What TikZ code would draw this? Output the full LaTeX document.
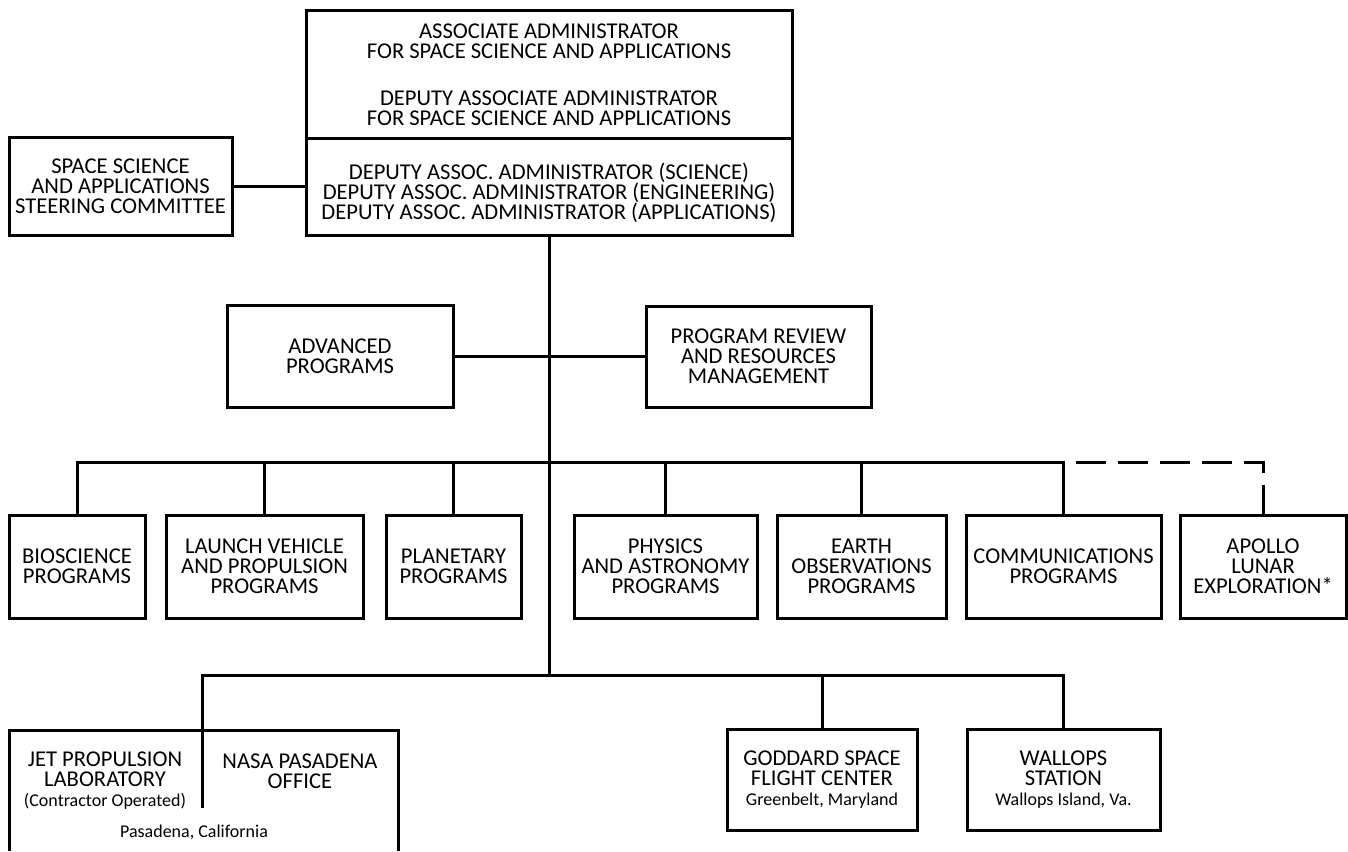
\documentclass[tikz,border=0pt]{standalone}
\usepackage{fontspec}
\setmainfont{Carlito}
\newcommand{\subline}[1]{{\fontsize{9}{10}\selectfont #1}}

\begin{document}
\begin{tikzpicture}[x=0.5pt,y=-0.5pt,
    box/.style={draw, line width=1.5pt, align=center, inner sep=0pt, font=\fontsize{11.3}{10}\selectfont},
    txt/.style={align=center, inner sep=0pt, font=\fontsize{11.3}{10}\selectfont},
    link/.style={line width=1.5pt}]
            \useasboundingbox (0,0) rectangle (1348,851);
            % coordinates
            \coordinate (split) at (0,138);
            \coordinate (bar) at (549,462);
            \coordinate (low) at (549,675);
            \coordinate (jpltop) at (202,730);
            % administrator box
            \node[box, minimum width=243pt, minimum height=112.5pt] (admin) at (549,122.5) {};
            \draw[link] (admin.west |- split) -- (admin.east |- split);
            \node[txt] (aa) at (549,75) {ASSOCIATE ADMINISTRATOR\\FOR SPACE SCIENCE AND APPLICATIONS\\[13.5pt]DEPUTY ASSOCIATE ADMINISTRATOR\\FOR SPACE SCIENCE AND APPLICATIONS};
            \node[txt] (daa) at (549,193) {DEPUTY ASSOC. ADMINISTRATOR (SCIENCE)\\DEPUTY ASSOC. ADMINISTRATOR (ENGINEERING)\\DEPUTY ASSOC. ADMINISTRATOR (APPLICATIONS)};
            % steering committee
            \node[box, minimum width=111.5pt, minimum height=49pt] (steer) at (120.5,186) {SPACE SCIENCE\\AND APPLICATIONS\\STEERING COMMITTEE};
            % staff offices
            \node[box, minimum width=113pt, minimum height=51pt] (adv) at (340,356.5) {ADVANCED\\PROGRAMS};
            \node[box, minimum width=112.5pt, minimum height=50.5pt] (prr) at (758.5,356.5) {PROGRAM REVIEW\\AND RESOURCES\\MANAGEMENT};
            % program offices
            \node[box, minimum width=68pt, minimum height=51.5pt] (bio) at (77,566.5) {BIOSCIENCE\\PROGRAMS};
            \node[box, minimum width=98.5pt, minimum height=51.5pt] (lv) at (264.5,566.5) {LAUNCH VEHICLE\\AND PROPULSION\\PROGRAMS};
            \node[box, minimum width=67.5pt, minimum height=51.5pt] (plan) at (453.5,566.5) {PLANETARY\\PROGRAMS};
            \node[box, minimum width=91.5pt, minimum height=51.5pt] (phys) at (665.5,566.5) {PHYSICS\\AND ASTRONOMY\\PROGRAMS};
            \node[box, minimum width=84.5pt, minimum height=51.5pt] (earth) at (861.5,566.5) {EARTH\\OBSERVATIONS\\PROGRAMS};
            \node[box, minimum width=97.5pt, minimum height=51.5pt] (comm) at (1063.5,566.5) {COMMUNICATIONS\\PROGRAMS};
            \node[box, minimum width=83pt, minimum height=51.5pt] (apollo) at (1263,566.5) {APOLLO\\LUNAR\\EXPLORATION*};
            % field centers
            \draw[link] (9,851) -- (9,730) -- (398,730) -- (398,851);
            \draw[link] (jpltop) -- (202,808);
            \node[txt] (jpl) at (105,781) {JET PROPULSION\\LABORATORY\\\subline{(Contractor Operated)}};
            \node[txt] (npo) at (300,771) {NASA PASADENA\\OFFICE};
            \node[txt, font=\fontsize{9}{10}\selectfont] (pas) at (194,832) {Pasadena, California};
            \node[box, minimum width=95pt, minimum height=50.5pt] (god) at (822,779.5) {GODDARD SPACE\\FLIGHT CENTER\\\subline{Greenbelt, Maryland}};
            \node[box, minimum width=96.5pt, minimum height=50.5pt] (wal) at (1063.5,779.5) {WALLOPS\\STATION\\\subline{Wallops Island, Va.}};
            % connectors
            \draw[link] (steer.east) -- (steer.east -| admin.west);
            \draw[link] (admin.south) -- (low);
            \draw[link] (adv.east) -- (prr.west);
            \draw[link] (bio.north) |- (bar) -| (comm.north);
            \foreach \n in {lv, plan, phys, earth}
                \draw[link] (\n.north) -- (\n.north |- bar);
            \draw[link, dash pattern=on 15pt off 6pt, dash phase=15pt] (comm.north |- bar) -| (apollo.north);
            \draw[link] (jpltop) |- (low) -| (wal.north);
            \draw[link] (god.north) -- (god.north |- low);
\end{tikzpicture}
\end{document}
